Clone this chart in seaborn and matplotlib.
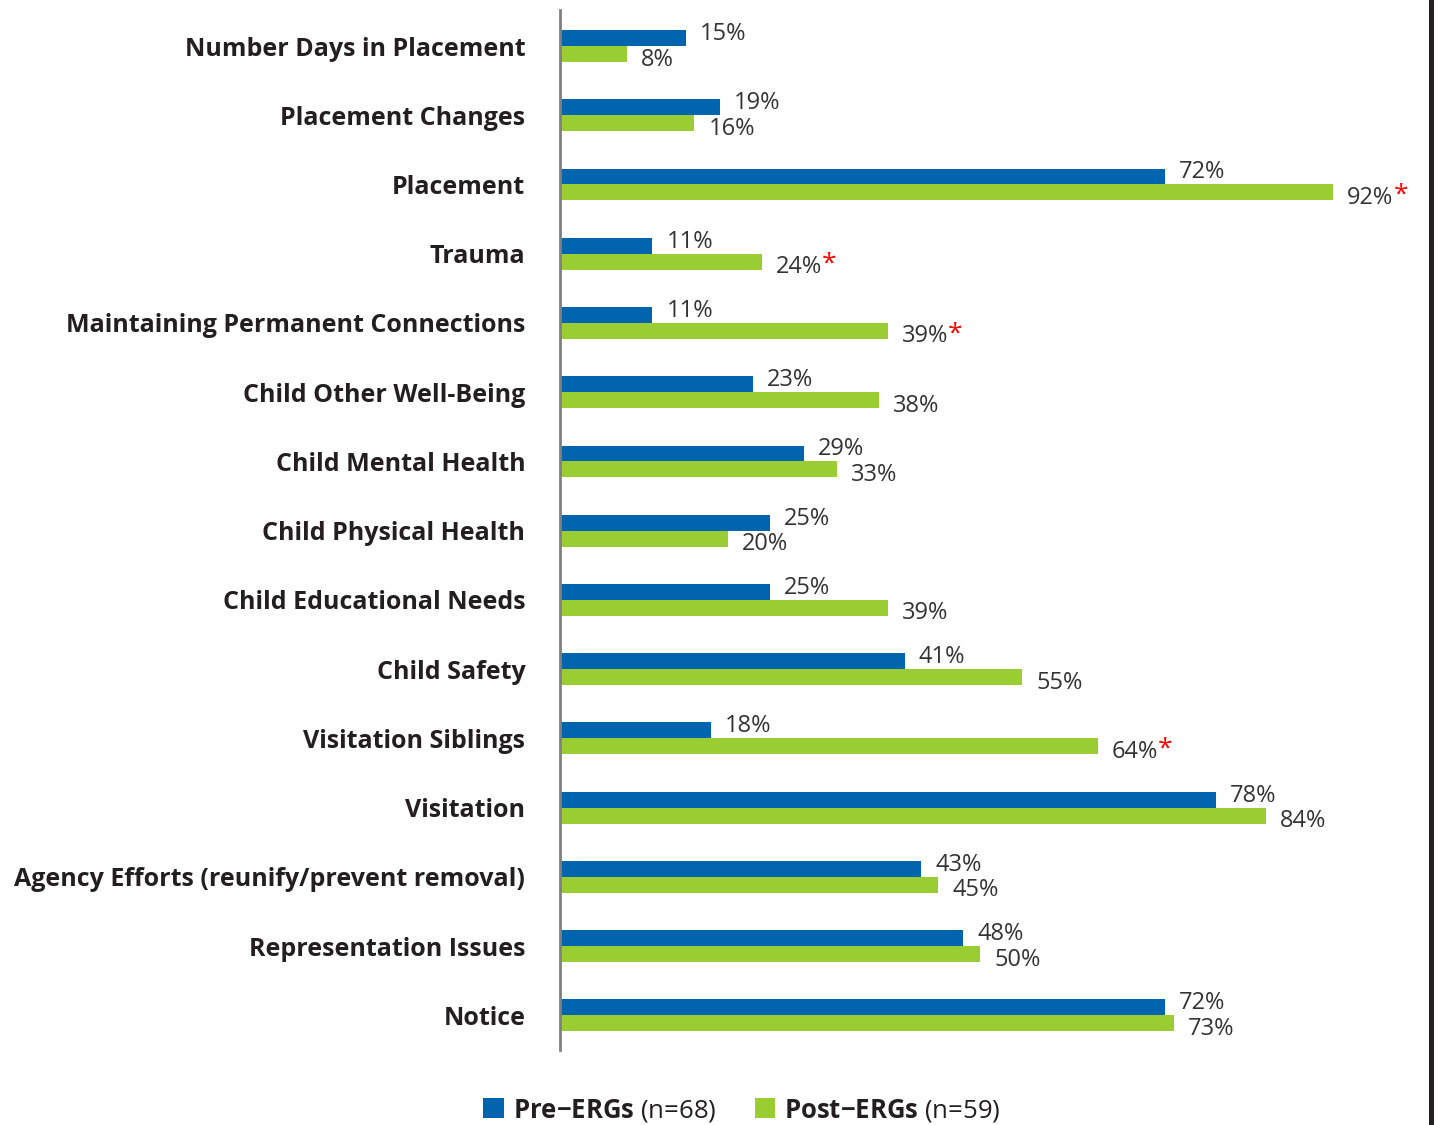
import matplotlib.pyplot as plt
import pandas as pd
import seaborn as sns
from matplotlib.lines import Line2D
from matplotlib.patches import Patch

# Datos
categorias = ["Number Days in Placement", "Placement Changes", "Placement", "Trauma",
              "Maintaining Permanent Connections", "Child Other Well-Being",
              "Child Mental Health", "Child Physical Health", "Child Educational Needs",
              "Child Safety", "Visitation Siblings", "Visitation",
              "Agency Efforts (reunify/prevent removal)", "Representation Issues", "Notice"]
pre_ergs = [15, 19, 72, 11, 11, 23, 29, 25, 25, 41, 18, 78, 43, 48, 72]
post_ergs = [8, 16, 92, 24, 39, 38, 33, 20, 39, 55, 64, 84, 45, 50, 73]
significativo = ["Placement", "Trauma", "Maintaining Permanent Connections", "Visitation Siblings"]
grupos = ["Pre-ERGs (n=68)", "Post-ERGs (n=59)"]
colores = ["#0064AF", "#9ACD32"]

df = pd.DataFrame({
    "category": categorias * 2,
    "value": pre_ergs + post_ergs,
    "group": [grupos[0]] * len(categorias) + [grupos[1]] * len(categorias),
})

sns.set_style("white")
plt.rcParams["font.family"] = ["Open Sans", "DejaVu Sans"]
plt.rcParams["mathtext.fontset"] = "custom"
plt.rcParams["mathtext.bf"] = "Open Sans:bold"
plt.rcParams["mathtext.rm"] = "Open Sans"

fig = plt.figure(figsize=(14.36, 11.25), dpi=100)
ax = fig.add_axes([560 / 1436, 1 - 1050 / 1125, (1430 - 560) / 1436, 1040 / 1125])

sns.barplot(data=df, x="value", y="category", hue="group", orient="h",
            palette=colores, width=0.46, gap=0, saturation=1, linewidth=0,
            ax=ax, legend=False)

ax.set_xlim(0, 103.5)
ax.set_ylim(14.5, -0.52)
ax.set(xlabel="", ylabel="")
ax.set_xticks([])
for lado in ["top", "right", "bottom"]:
    ax.spines[lado].set_visible(False)
ax.spines["left"].set_color("#808080")
ax.spines["left"].set_linewidth(2)
ax.tick_params(axis="y", length=0, pad=25)
for etiqueta in ax.get_yticklabels():
    etiqueta.set_fontweight("bold")
    etiqueta.set_fontsize(18)
    etiqueta.set_color("#231F20")

# Etiquetas de valor
for i, contenedor in enumerate(ax.containers):
    desplazamiento = 3 if i == 0 else -4
    for barra, cat in zip(contenedor, categorias):
        w = barra.get_width()
        yc = barra.get_y() + barra.get_height() / 2
        t = ax.annotate(f"{w:.0f}%", xy=(w, yc), xytext=(10, desplazamiento),
                        textcoords="offset points", ha="left", va="center",
                        fontsize=17, color="#333333")
        if i == 1 and cat in significativo:
            ax.annotate("*", xy=(1, 0.62), xycoords=t, ha="left", va="center",
                        fontsize=19, color="#FF0000")

# Linea negra a la derecha
fig.add_artist(Line2D([1430.5 / 1436, 1430.5 / 1436], [0, 1], color="#231F20",
                      linewidth=3.6, transform=fig.transFigure))

manejadores = [Patch(facecolor=c, edgecolor="none") for c in colores]
etiquetas = [r"$\mathbf{Pre{-}ERGs}$ (n=68)", r"$\mathbf{Post{-}ERGs}$ (n=59)"]
fig.legend(manejadores, etiquetas, loc="center", bbox_to_anchor=(742 / 1436, 1 - 1110 / 1125),
           ncol=2, frameon=False, fontsize=18.5, handlelength=0.8, handleheight=0.8,
           handletextpad=0.35, columnspacing=1.5, labelcolor="#231F20")

fig.savefig("out.png", dpi=100)
